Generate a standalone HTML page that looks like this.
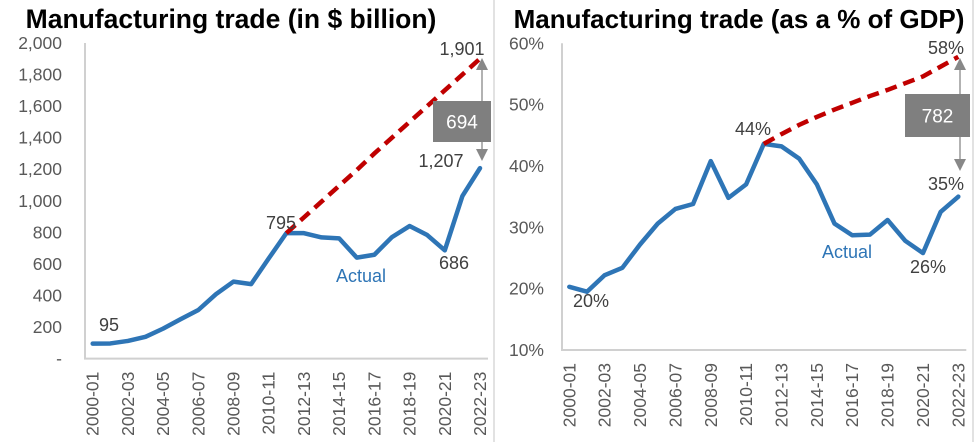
<!DOCTYPE html>
<html><head><meta charset="utf-8"><style>
html,body{margin:0;padding:0;background:#fff;}
svg{display:block;font-family:"Liberation Sans",sans-serif;}
</style></head><body>
<svg id="c" width="975" height="442" viewBox="0 0 975 442" xmlns="http://www.w3.org/2000/svg">
<rect width="975" height="442" fill="#fff"/>
<line x1="494" y1="0" x2="494" y2="442" stroke="#d9d9d9" stroke-width="1.5"/>
<line x1="973" y1="0" x2="973" y2="442" stroke="#d9d9d9" stroke-width="1.5"/>
<text x="231" y="28" text-anchor="middle" font-size="26.5" font-weight="bold" fill="#000">Manufacturing trade (in $ billion)</text>
<text x="739" y="28" text-anchor="middle" font-size="26" font-weight="bold" fill="#000">Manufacturing trade (as a % of GDP)</text>
<g id="L"></g><g id="R"></g>
</svg>
<script>
const categories=["2000-01","2001-02","2002-03","2003-04","2004-05","2005-06","2006-07","2007-08","2008-09","2009-10","2010-11","2011-12","2012-13","2013-14","2014-15","2015-16","2016-17","2017-18","2018-19","2019-20","2020-21","2021-22","2022-23"];
const leftActual=[95,96,112,138,190,250,308,408,488,472,635,795,795,768,762,640,658,770,840,783,686,1030,1207];
const leftProjected=[795,895,995,1095,1195,1300,1400,1500,1600,1700,1800,1901];
const leftTicks=[0,200,400,600,800,1000,1200,1400,1600,1800,2000];
const rightActual=[20.3,19.5,22.2,23.4,27.2,30.6,33.0,33.8,40.8,34.8,37.0,43.6,43.2,41.2,37.0,30.6,28.7,28.8,31.2,27.8,25.8,32.5,35.0];
const rightProjected=[43.6,45.2,46.7,48.0,49.2,50.3,51.4,52.4,53.5,54.6,56.2,57.8];
const rightTicks=[10,20,30,40,50,60];
const projStart=11;
const NS="http://www.w3.org/2000/svg";
function mk(parent,tag,attrs,txt){const e=document.createElementNS(NS,tag);for(const k in attrs)e.setAttribute(k,attrs[k]);if(txt!==undefined)e.textContent=txt;parent.appendChild(e);return e;}
function drawChart(g,cfg){
  const xS=i=>cfg.x0+(cfg.x1-cfg.x0)*i/(categories.length-1);
  const yS=v=>cfg.yb+(cfg.yt-cfg.yb)*(v-cfg.min)/(cfg.max-cfg.min);
  const ax=mk(g,'path',{d:`M${cfg.ax},${cfg.yt} V${cfg.yb} H${cfg.x1+8}`,fill:'none',stroke:'#d0d0d0','stroke-width':2});
  
  
  cfg.ticks.forEach(t=>{
    const lab=cfg.fmt(t);
    const e=mk(g,'text',{x:cfg.tx,y:yS(t)+6,'text-anchor':'end','font-size':17.5,fill:'#595959'},lab);
    
    
  });
  categories.forEach((c,i)=>{
    if(i%2)return;
    const x=xS(i),y=cfg.yb+13;
    const e=mk(g,'text',{x:x,y:y,transform:`rotate(-90 ${x} ${y})`,'text-anchor':'end','font-size':17.5,fill:'#595959',dy:6},c);
    
    
  });
  const pa=mk(g,'polyline',{points:cfg.actual.map((v,i)=>xS(i)+','+yS(v)).join(' '),fill:'none',stroke:'#2e75b6','stroke-width':4.5,'stroke-linejoin':'round','stroke-linecap':'round'});
  
  
  const pp=mk(g,'polyline',{points:cfg.proj.map((v,i)=>xS(i+projStart)+','+yS(v)).join(' '),fill:'none',stroke:'#c00000','stroke-width':4.5,'stroke-dasharray':'12 7'});
  
  
  cfg.labels.forEach(l=>{
    const e=mk(g,'text',{x:l[0],y:l[1],'text-anchor':l[3]||'middle','font-size':18,fill:l[4]||'#404040'},l[2]);
    
    
  });
  const a=cfg.arrow;
  const ar=mk(g,'g',{});
  
  
  mk(ar,'line',{x1:a.x,y1:a.y1+8,x2:a.x,y2:a.y2-8,stroke:'#999','stroke-width':1.5});
  mk(ar,'polygon',{points:`${a.x},${a.y1} ${a.x-6},${a.y1+12} ${a.x+6},${a.y1+12}`,fill:'#888'});
  mk(ar,'polygon',{points:`${a.x},${a.y2} ${a.x-6},${a.y2-12} ${a.x+6},${a.y2-12}`,fill:'#888'});
  mk(ar,'rect',{x:a.bx,y:a.by,width:a.bw,height:a.bh,fill:'#7f7f7f'});
  mk(ar,'text',{x:a.bx+a.bw/2,y:a.by+a.bh/2+7,'text-anchor':'middle','font-size':19,fill:'#fff'},a.t);
}
drawChart(document.getElementById('L'),{p:'left',x0:92.7,x1:480,yt:43,yb:358.6,min:0,max:2000,ax:85,tx:62,ticks:leftTicks,
  fmt:t=>t===0?'-':t.toLocaleString('en-US'),actual:leftActual,proj:leftProjected,
  labels:[[109,331,'95'],[281,229,'795'],[462,55,'1,901'],[441,167,'1,207'],[454,269,'686'],[361,282,'Actual','middle','#2e75b6']],
  arrow:{x:482,y1:58,y2:161,bx:433,by:101,bw:58,bh:41,t:'694'}});
drawChart(document.getElementById('R'),{p:'right',x0:569.3,x1:958.3,yt:43.3,yb:350,min:10,max:60,ax:562,tx:544,ticks:rightTicks,
  fmt:t=>t+'%',actual:rightActual,proj:rightProjected,
  labels:[[591,307,'20%'],[753,135,'44%'],[946,54,'58%'],[946,190,'35%'],[928,273,'26%'],[847,258,'Actual','middle','#2e75b6']],
  arrow:{x:960,y1:58,y2:171,bx:905,by:94,bw:65,bh:43,t:'782'}});
</script>
</body></html>
